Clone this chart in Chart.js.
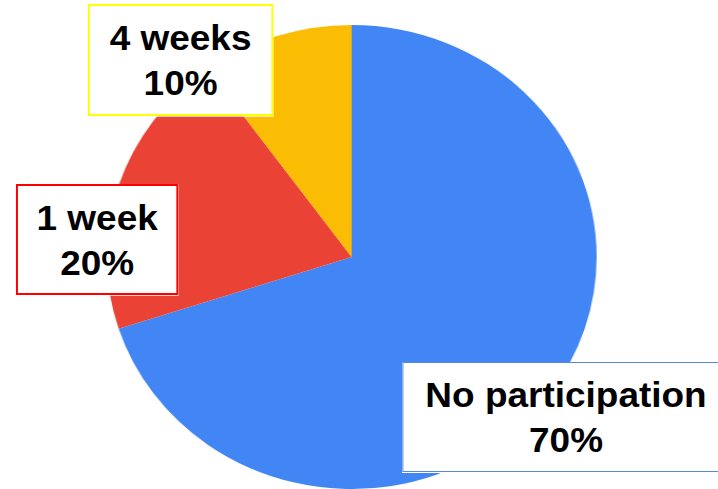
<!DOCTYPE html>
<html>
<head>
<meta charset="utf-8">
<script src="https://cdn.jsdelivr.net/npm/chart.js@4/dist/chart.umd.min.js"></script>
<style>
    html, body {
        margin: 0;
        padding: 0;
        background: #ffffff;
        overflow: hidden;
    }
    #stage {
        position: absolute;
        left: 0;
        top: 0;
        width: 680px;
        height: 489px;
        transform-origin: 0 0;
        transform: scale(1.056, 1);
    }
    #pie_chart {
        position: absolute;
        left: 0;
        top: 0;
    }
    .callout {
        position: absolute;
        box-sizing: border-box;
        background: #ffffff;
        display: flex;
        align-items: center;
        justify-content: center;
        text-align: center;
        font-family: "Liberation Sans", Arial, sans-serif;
        font-weight: bold;
        font-size: 35px;
        line-height: 45px;
        color: #000000;
        white-space: pre;
    }
</style>
</head>
<body>
<div id="stage">
    <canvas id="pie_chart" width="680" height="489"></canvas>
</div>
<script>
const categories = ['No participation', '1 week', '4 weeks'];
const shares = [70, 20, 10];
const slice_colours = ['#4285f4', '#ea4335', '#fbbc04'];

// callout boxes, one per category (same order as above)
const callout_boxes = [
    { left: 381, top: 362, width: 310, height: 110, border: '1px solid #5a86d6' },
    { left: 15, top: 184, width: 154, height: 111, border: '2px solid #ff0000' },
    { left: 83, top: 4, width: 176, height: 112, border: '2px solid #ffff00' }
];

function add_callouts() {
    var stage = document.getElementById('stage');
    for (var i = 0; i < categories.length; i++) {
        var box = callout_boxes[i];
        var div = document.createElement('div');
        div.className = 'callout';
        div.style.left = box.left + 'px';
        div.style.top = box.top + 'px';
        div.style.width = box.width + 'px';
        div.style.height = box.height + 'px';
        div.style.border = box.border;
        div.textContent = categories[i] + '\n' + shares[i] + '%';
        stage.appendChild(div);
    }
}

window.onload = function() {
    const context = document.getElementById('pie_chart');
    new Chart(context, {
        type: 'pie',
        data: {
            labels: categories,
            datasets: [{
                data: shares,
                backgroundColor: slice_colours,
                borderWidth: 0
            }]
        },
        options: {
            responsive: false,
            animation: false,
            layout: {
                padding: { left: 101, right: 115, top: 25, bottom: 0 }
            },
            plugins: {
                legend: { display: false },
                tooltip: { enabled: false }
            }
        }
    });
    add_callouts();
};
</script>
</body>
</html>
